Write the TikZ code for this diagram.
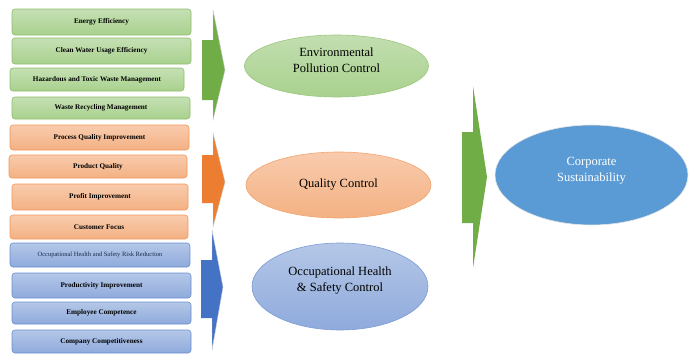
\documentclass[tikz,border=0pt]{standalone}
\usepackage{fontspec}
\setmainfont{Liberation Serif}
\usetikzlibrary{shapes.geometric}
\definecolor{gB}{HTML}{70AD47}
\definecolor{gL}{HTML}{A9D18E}
\definecolor{gT}{HTML}{C5E0B4}
\definecolor{oB}{HTML}{ED7D31}
\definecolor{oL}{HTML}{F4B183}
\definecolor{oT}{HTML}{F8CBAD}
\definecolor{bB}{HTML}{4472C4}
\definecolor{bL}{HTML}{8FAADC}
\definecolor{bT}{HTML}{B4C7E7}
\definecolor{cB}{HTML}{5B9BD5}
\tikzset{
  box/.style={rounded corners=3pt, line width=0.6pt, inner sep=0pt,
    font=\fontsize{7.2}{8}\selectfont\bfseries},
  gbox/.style={box, draw=gB!80, top color=gT, bottom color=gL},
  obox/.style={box, draw=oB!80, top color=oT, bottom color=oL},
  bbox/.style={box, draw=bB!80, top color=bT, bottom color=bL},
  ell/.style={ellipse, line width=0.6pt, inner sep=0pt, align=center,
    font=\fontsize{12.5}{16}\selectfont},
  arr/.style={draw=gray!40, line width=0.4pt},
}
\begin{document}
\begin{tikzpicture}[x=1pt,y=-1pt]
\useasboundingbox (0,0) rectangle (694,356);
% green boxes
\node[gbox, minimum width=179pt, minimum height=26pt] (g1) at (101.5,22) {Energy Efficiency};
\node[gbox, minimum width=179pt, minimum height=26pt] (g2) at (101.5,51) {Clean Water Usage Efficiency};
\node[gbox, minimum width=174pt, minimum height=23pt] (g3) at (97,79.5) {Hazardous and Toxic Waste Management};
\node[gbox, minimum width=178pt, minimum height=22pt] (g4) at (101,108) {Waste Recycling Management};
% orange boxes
\node[obox, minimum width=179pt, minimum height=25pt] (o1) at (99.5,137.5) {Process Quality Improvement};
\node[obox, minimum width=178pt, minimum height=23pt] (o2) at (98,166.5) {Product Quality};
\node[obox, minimum width=176pt, minimum height=26pt] (o3) at (100,197) {Profit Improvement};
\node[obox, minimum width=178pt, minimum height=24pt] (o4) at (99,227) {Customer Focus};
% blue boxes
\node[bbox, minimum width=180pt, minimum height=24pt, font=\fontsize{6.5}{7}\selectfont, text=bB!40!black] (b1) at (100,255) {Occupational Health and Safety Risk Reduction};
\node[bbox, minimum width=179pt, minimum height=25pt] (b2) at (101.5,285.5) {Productivity Improvement};
\node[bbox, minimum width=179pt, minimum height=22pt] (b3) at (101.5,313) {Employee Competence};
\node[bbox, minimum width=179pt, minimum height=23pt] (b4) at (101.5,341.5) {Company Competitiveness};
% arrows
\fill[gB] (202,40) -- (213,40) -- (213,10) -- (225,70) -- (213,120) -- (213,100) -- (202,100) -- cycle;
\draw[arr] (213,40) -- (213,10) -- (225,70) -- (213,120) -- (213,100);
\fill[oB] (202,155) -- (213,155) -- (213,133) -- (225,182) -- (213,227) -- (213,203) -- (202,203) -- cycle;
\draw[arr] (213,155) -- (213,133) -- (225,182) -- (213,227) -- (213,203);
\fill[bB] (201,260) -- (212,260) -- (212,230) -- (223,287) -- (212,350) -- (212,318) -- (201,318) -- cycle;
\draw[arr] (212,260) -- (212,230) -- (223,287) -- (212,350) -- (212,318);
\fill[gB] (462,132) -- (473,132) -- (473,86) -- (487,177) -- (473,268) -- (473,223) -- (462,223) -- cycle;
% ellipses
\node[ell, draw=gB!70, top color=gT!90!gL, bottom color=gL, minimum width=184pt, minimum height=62pt] (e1) at (336.5,66) {Environmental\\Pollution Control\\[-4pt]};
\node[ell, draw=oB!70, top color=oT, bottom color=oL, minimum width=185pt, minimum height=66pt] (e2) at (338.5,185) {Quality Control};
\node[ell, draw=bB!70, top color=bT, bottom color=bL, minimum width=176pt, minimum height=87pt] (e3) at (340,286.5) {Occupational Health\\\& Safety Control\\[-2pt]};
\node[ell, draw=white!80!gray, fill=cB, text=white, minimum width=193pt, minimum height=100pt] (e4) at (591.5,175) {Corporate\\Sustainability\\[-4pt]};
\end{tikzpicture}
\end{document}
